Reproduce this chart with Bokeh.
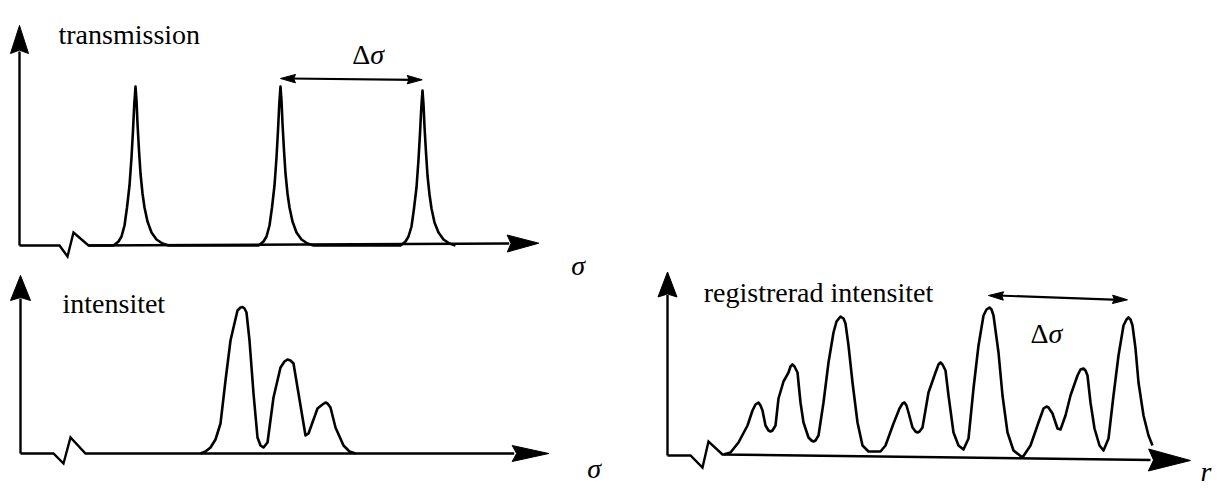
import math
from bokeh.plotting import figure
from bokeh.models import Range1d
from bokeh.core.properties import value
from bokeh.embed import file_html
from bokeh.resources import INLINE

# ---------------- data ----------------
# Panel "transmission": x = distance from the vertical axis, y = height above baseline
trans_x = [69,
           94, 99, 102, 105, 107.5, 110, 112, 113.5, 114.8, 116, 117, 118, 119.5, 121, 123, 125, 128, 132, 137, 143, 149,
           239, 244, 247, 250, 252.5, 255, 257, 258.5, 259.8, 261, 262, 263, 264.5, 266, 268, 270, 273, 277, 282, 288, 294,
           381, 386, 389, 392, 394.5, 397, 399, 400.5, 401.8, 403, 404, 405, 406.5, 408, 410, 412, 415, 419, 424, 430, 436]
trans_y = [0,
           0, 4, 9, 20, 38, 60, 88, 115, 142, 159, 145, 122, 95, 72, 52, 38, 24, 13, 6, 2, 0,
           0, 4, 9, 20, 38, 60, 88, 115, 142, 159, 145, 122, 95, 72, 52, 38, 24, 13, 6, 2, 0,
           0, 4, 9, 19, 37, 58, 86, 112, 138, 155, 141, 119, 93, 70, 51, 37, 23, 13, 6, 2, 0]

# Panel "intensitet"
int_x = [180, 185, 190, 195, 200, 205, 210, 213, 217, 220, 222, 224, 226, 229, 233, 237, 240, 243, 247,
         253, 260, 264, 267, 270, 273, 278, 285, 288, 297, 302, 305, 307, 310, 315, 323, 329, 335]
int_y = [0, 2, 6, 14, 30, 73, 113, 126, 143, 146, 146.5, 145, 141, 113, 60, 16, 8, 6, 11,
         56, 86, 92, 94, 93, 90, 60, 18, 20, 45, 49, 51, 50, 46, 26, 8, 2, 0]

# Panel "registrerad intensitet"
reg_x = [56, 63, 71, 80, 85, 88, 91, 93, 95, 98, 101, 103, 105, 108, 111, 116, 121, 123, 125, 127, 130,
         133, 136, 141, 144, 146, 148, 151, 156, 161, 166, 169, 173, 176, 178, 181, 185, 190, 195, 201,
         213, 218, 226, 232, 235, 237, 239, 241, 245, 248, 250, 252, 255, 261, 268, 271, 273, 275, 278,
         281, 286, 291, 296, 301, 306, 311, 316, 319, 322, 324, 326, 331, 335, 340, 346, 355, 363, 371,
         376, 379, 381, 385, 390, 393, 398, 403, 410, 413, 416, 418, 420, 423, 427, 432, 436, 441, 446,
         451, 456, 459, 461, 463, 465, 468, 471, 476, 481, 485]
reg_y = [1, 3, 13, 30, 45, 51, 53, 50, 45, 30, 25, 24, 25, 30, 57, 74, 83, 89, 91, 89, 83,
         53, 33, 18, 15, 14, 15, 20, 53, 93, 123, 134, 139, 137, 132, 110, 73, 33, 10, 4,
         4, 10, 32, 47, 52, 53, 50, 43, 28, 24, 23, 24, 28, 63, 83, 91, 93, 91, 85,
         60, 23, 10, 6, 17, 67, 110, 140, 146, 148, 146, 140, 103, 60, 23, 5, -2, 10, 33,
         47, 49, 48, 42, 27, 26, 40, 60, 80, 86, 87, 85, 80, 53, 27, 10, 5, 17, 60,
         100, 130, 136, 138, 136, 130, 107, 73, 40, 20, 10]

# Δσ markers (start, end) in panel units
trans_delta = ([261, 167], [402.7, 165.7])
reg_delta = ([321, 160], [460, 155.7])

labels = {"tl": "transmission", "bl": "intensitet", "br": "registrerad intensitet"}
xlabels = {"tl": "σ", "bl": "σ", "br": "r"}

# ---------------- layout / style ----------------
W, H = 1227, 490
PAD = 0
origins = {"tl": (19, 245), "bl": (20, 453), "br": (667, 455)}
yaxis = {"tl": (220, 28, 9), "bl": (178, 25, 10), "br": (183.5, 25, 9.5)}
xaxis = {"tl": ((487.7, 2.0), (519.3, 2.3), 8.5),
         "bl": ((491.7, 0.0), (528.3, 0.0), 8.0),
         "br": ((481.0, -4.5), (523.0, -5.0), 11.0)}
breaks = {"tl": [(0, 0), (40, 0), (48, -11), (54, 13), (69, 0)],
          "bl": [(0, 0), (33, 0), (43, -10), (50, 16), (65, 0)],
          "br": [(0, 0), (23, 0), (35, -12), (41, 14), (55, 1)]}
title_pos = {"tl": (39, 211), "bl": (42, 150.3), "br": (36.3, 163.3)}
xlabel_pos = {"tl": (551.7, -20), "bl": (566.7, -15), "br": (533, -16)}
delta_label_pos = {"tl": (332.7, 191), "br": (363, 122.5)}

FONT = value("'Liberation Serif', 'DejaVu Serif', serif")
FS = "28px"
LW = 2.6

p = figure(width=W, height=H, x_range=Range1d(0, W), y_range=Range1d(0, H),
           x_axis_type=None, y_axis_type=None, output_backend="svg",
           toolbar_location=None, min_border=0)
p.outline_line_color = None
p.background_fill_color = "white"
p.border_fill_color = "white"

xr, yr = {}, {}
for name, (ox, oy) in origins.items():
    fx, fy = ox - PAD, oy - PAD
    xr[name] = Range1d(-fx, W - fx)
    yr[name] = Range1d(fy - H, fy)
p.extra_x_ranges = xr
p.extra_y_ranges = yr


def head(tip, base, half):
    tx, ty = tip
    bx, by = base
    dx, dy = tx - bx, ty - by
    L = math.hypot(dx, dy)
    nx, ny = -dy / L, dx / L
    ux, uy = dx / L, dy / L
    notch = 0.12 * L
    return ([bx + nx * half, tx, bx - nx * half, bx + ux * notch],
            [by + ny * half, ty, by - ny * half, by + uy * notch])


def arrowhead(name, tip, base, half):
    hx, hy = head(tip, base, half)
    p.patch(hx, hy, x_range_name=name, y_range_name=name,
            fill_color="black", line_color="black", line_width=1)


for name in origins:
    kw = dict(x_range_name=name, y_range_name=name)
    ytip, ylen, yhalf = yaxis[name]
    p.line([0, 0], [0, ytip - ylen + 2], line_color="black", line_width=2.4, **kw)
    arrowhead(name, (0, ytip), (0, ytip - ylen), yhalf)
    (bx, by), (tx, ty), xhalf = xaxis[name]
    bxs = [pt[0] for pt in breaks[name]] + [bx + 2]
    bys = [pt[1] for pt in breaks[name]] + [by]
    p.line(bxs, bys, line_color="black", line_width=2.4, line_join="miter", **kw)
    arrowhead(name, (tx, ty), (bx, by), xhalf)
    tx0, ty0 = title_pos[name]
    p.text([tx0], [ty0], text=[labels[name]], text_font=FONT, text_font_size=FS,
           text_align="left", text_baseline="alphabetic", text_color="black", **kw)
    lx, ly = xlabel_pos[name]
    p.text([lx], [ly], text=[xlabels[name]], text_font=FONT, text_font_size=FS,
           text_font_style="italic", text_align="left", text_baseline="alphabetic",
           text_color="black", **kw)

p.line(trans_x, trans_y, x_range_name="tl", y_range_name="tl", line_color="black",
       line_width=LW, line_join="round")
p.line(int_x, int_y, x_range_name="bl", y_range_name="bl", line_color="black",
       line_width=LW, line_join="round")
p.line(reg_x, reg_y, x_range_name="br", y_range_name="br", line_color="black",
       line_width=LW, line_join="round")

for name, (a, b) in (("tl", trans_delta), ("br", reg_delta)):
    kw = dict(x_range_name=name, y_range_name=name)
    p.line([a[0] + 8, b[0] - 8], [a[1], b[1]], line_color="black", line_width=2.2, **kw)
    ang = math.atan2(b[1] - a[1], b[0] - a[0])
    L = 15
    arrowhead(name, (a[0], a[1]), (a[0] + L * math.cos(ang), a[1] + L * math.sin(ang)), 4.2)
    arrowhead(name, (b[0], b[1]), (b[0] - L * math.cos(ang), b[1] - L * math.sin(ang)), 4.2)
    dx0, dy0 = delta_label_pos[name]
    p.text([dx0], [dy0], text=["Δ"], text_font=FONT, text_font_size=FS,
           text_align="left", text_baseline="alphabetic", text_color="black", **kw)
    p.text([dx0 + 18], [dy0], text=["σ"], text_font=FONT, text_font_size=FS,
           text_font_style="italic", text_align="left", text_baseline="alphabetic",
           text_color="black", **kw)

open("out.html", "w").write(file_html(p, INLINE))
